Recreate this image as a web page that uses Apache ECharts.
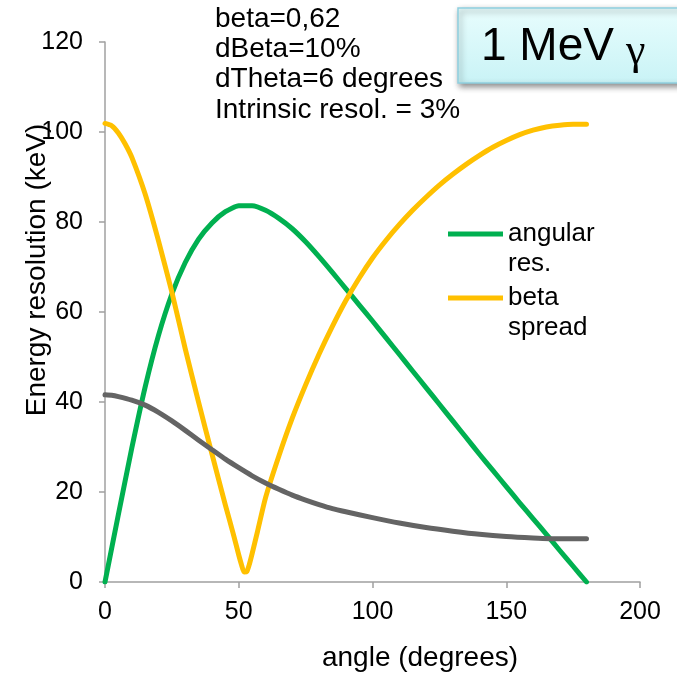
<!DOCTYPE html>
<html>
<head>
<meta charset="utf-8">
<script src="https://cdn.jsdelivr.net/npm/echarts@6/dist/echarts.min.js"></script>
<style>
  html, body { margin: 0; padding: 0; background: #fff; }
  #chart { width: 677px; height: 676px; }
</style>
</head>
<body>
<div id="chart"></div>
<script>
// Energy resolution contributions versus scattering angle (degrees)
const angularAngles = [0, 5, 10, 15, 20, 25, 30, 35, 40, 45, 50, 55, 60, 65, 70, 75, 80, 85, 90, 95, 100, 105, 110, 115, 120, 125, 130, 135, 140, 145, 150, 155, 160, 165, 170, 175, 180];
const angularValues = [0, 15.0, 29.7, 43.3, 54.8, 64.0, 71.0, 76.2, 79.8, 82.3, 83.6, 83.6, 82.6, 80.8, 78.5, 75.6, 72.3, 68.8, 65.2, 61.6, 58.0, 54.3, 50.6, 46.9, 43.2, 39.5, 35.8, 32.1, 28.4, 24.8, 21.2, 17.6, 14.1, 10.6, 7.0, 3.5, 0];

const betaAngles = [0, 2.5, 5, 7.5, 10, 15, 20, 25, 30, 35, 40, 45, 48, 50, 51, 52, 53, 54, 55, 57, 60, 65, 70, 75, 80, 85, 90, 95, 100, 105, 110, 115, 120, 125, 130, 135, 140, 145, 150, 155, 160, 165, 170, 175, 180];
const betaValues = [101.9, 101.4, 99.8, 97.4, 94.4, 86.2, 75.8, 64.4, 51.8, 39.9, 28.4, 17.1, 10.6, 6.0, 3.9, 2.2, 2.3, 4.0, 6.3, 11.2, 18.7, 28.0, 36.4, 43.8, 50.6, 56.8, 62.5, 67.5, 72.0, 75.9, 79.4, 82.6, 85.5, 88.2, 90.6, 92.8, 94.8, 96.6, 98.1, 99.4, 100.4, 101.1, 101.5, 101.7, 101.7];

const intrinsicAngles = [0, 2.5, 5, 10, 15, 20, 25, 30, 35, 40, 45, 50, 55, 60, 65, 70, 75, 80, 85, 90, 100, 110, 120, 130, 140, 150, 160, 170, 180];
const intrinsicValues = [41.6, 41.5, 41.2, 40.4, 39.3, 37.7, 35.8, 33.7, 31.5, 29.4, 27.3, 25.4, 23.6, 22.0, 20.6, 19.3, 18.2, 17.2, 16.3, 15.6, 14.3, 13.1, 12.1, 11.3, 10.6, 10.1, 9.8, 9.6, 9.6];

const xTicks = { min: 0, max: 200, interval: 50 };
const yTicks = { min: 0, max: 120, interval: 20 };

const seriesNames = ['angular res.', 'beta spread', 'intrinsic'];
// legend text wrapped onto two lines; the leading blank line keeps the first line level with the swatch
const legendLabels = { 'angular res.': '\nangular\nres.', 'beta spread': '\nbeta\nspread' };
const paramLines = ['beta=0,62', 'dBeta=10%', 'dTheta=6 degrees', 'Intrinsic resol. = 3%'];

const FONT = 'Liberation Sans, Arial, sans-serif';

function pairs(xs, ys) { return xs.map((x, i) => [x, ys[i]]); }

function lineSeries(name, xs, ys, color) {
  return {
    name: name,
    type: 'line',
    data: pairs(xs, ys),
    showSymbol: false,
    symbol: 'none',
    smooth: 0.2,
    lineStyle: { color: color, width: 5, cap: 'round', join: 'round' },
    itemStyle: { color: color },
    z: 3
  };
}

function legendFor(name, swatchY) {
  return {
    data: [{ name: name, icon: 'rect' }],
    left: 448,
    top: swatchY - 45,
    padding: 0,
    orient: 'vertical',
    itemWidth: 55,
    itemHeight: 5,
    itemGap: 0,
    selectedMode: false,
    formatter: n => legendLabels[n],
    textStyle: { fontFamily: FONT, fontSize: 26, color: '#000', lineHeight: 30 }
  };
}

const chart = echarts.init(document.getElementById('chart'), null, { renderer: 'canvas' });

chart.setOption({
  animation: false,
  backgroundColor: '#fff',
  grid: { left: 105, right: 37, top: 42, bottom: 94, outerBoundsMode: 'none' },
  legend: [legendFor(seriesNames[0], 234), legendFor(seriesNames[1], 298)],
  xAxis: {
    type: 'value',
    min: xTicks.min, max: xTicks.max, interval: xTicks.interval,
    name: 'angle (degrees)',
    nameLocation: 'middle',
    nameGap: 62,
    nameMoveOverlap: false,
    nameTextStyle: { fontFamily: FONT, fontSize: 28, color: '#000', padding: [0, 0, 0, 95] },
    axisLine: { show: true, lineStyle: { color: '#a0a0a0', width: 1.5 } },
    axisTick: { show: true, length: 6, lineStyle: { color: '#a0a0a0', width: 1.5 } },
    axisLabel: { fontFamily: FONT, fontSize: 25, color: '#000', margin: 18 },
    splitLine: { show: false }
  },
  yAxis: {
    type: 'value',
    min: yTicks.min, max: yTicks.max, interval: yTicks.interval,
    name: 'Energy resolution (keV)',
    nameLocation: 'middle',
    nameGap: 54,
    nameMoveOverlap: false,
    nameTextStyle: { fontFamily: FONT, fontSize: 28, color: '#000', padding: [0, 0, 0, 84] },
    axisLine: { show: true, lineStyle: { color: '#a0a0a0', width: 1.5 } },
    axisTick: { show: true, length: 6, lineStyle: { color: '#a0a0a0', width: 1.5 } },
    axisLabel: { fontFamily: FONT, fontSize: 25, color: '#000', margin: 22 },
    splitLine: { show: false }
  },
  series: [
    lineSeries(seriesNames[0], angularAngles, angularValues, '#00B050'),
    lineSeries(seriesNames[1], betaAngles, betaValues, '#FFC000'),
    lineSeries(seriesNames[2], intrinsicAngles, intrinsicValues, '#646464')
  ],
  graphic: [
    {
      type: 'text',
      left: 215, top: 4,
      z: 10,
      style: {
        text: paramLines.join('\n'),
        fontFamily: FONT, fontSize: 28, lineHeight: 30.3, fill: '#000'
      }
    },
    {
      type: 'rect',
      shape: { x: 458, y: 8, width: 240, height: 75 },
      z: 10,
      style: {
        fill: new echarts.graphic.LinearGradient(0, 0, 0, 1, [
          { offset: 0, color: '#E8FDFD' },
          { offset: 1, color: '#C9F3F6' }
        ]),
        stroke: '#8FCFDF',
        lineWidth: 1.5,
        shadowBlur: 6,
        shadowOffsetX: 2,
        shadowOffsetY: 3,
        shadowColor: 'rgba(0,0,0,0.45)'
      }
    },
    {
      type: 'text',
      x: 481, y: 47,
      z: 11,
      style: {
        text: '1 MeV',
        fontFamily: FONT, fontSize: 46, fill: '#000',
        verticalAlign: 'middle'
      }
    },
    {
      type: 'text',
      x: 626, y: 52,
      z: 11,
      style: {
        text: 'γ',
        fontFamily: 'Liberation Serif, Times New Roman, serif', fontSize: 44, fill: '#000',
        verticalAlign: 'middle'
      }
    }
  ]
});
</script>
</body>
</html>
